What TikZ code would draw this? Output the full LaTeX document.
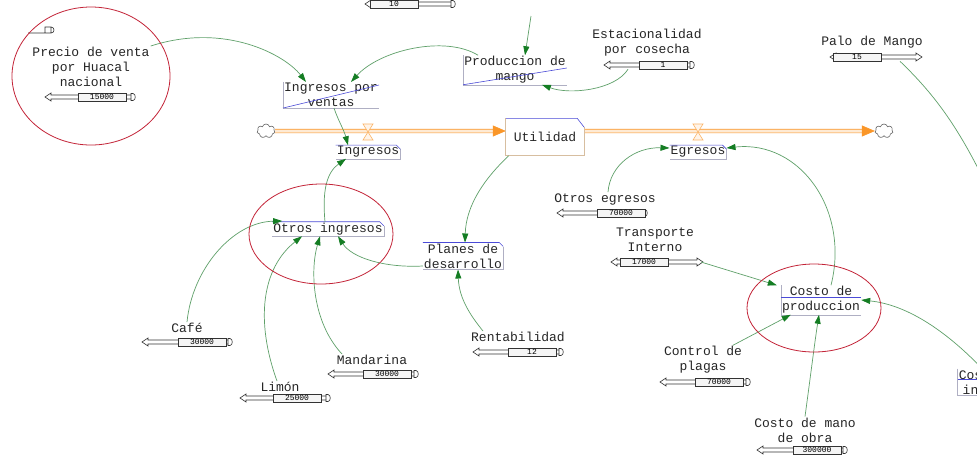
\documentclass[tikz,border=0pt]{standalone}
\usepackage{fontspec}
\setmainfont{Liberation Mono}
\usetikzlibrary{arrows.meta,shapes.symbols}
\definecolor{vline}{RGB}{95,160,105}
\definecolor{vtip}{RGB}{20,125,35}
\definecolor{vblue}{RGB}{75,75,215}
\definecolor{vgrey}{RGB}{175,175,195}
\definecolor{vorange}{RGB}{250,150,40}
\definecolor{vred}{RGB}{195,35,55}
\definecolor{vstock}{RGB}{215,190,160}
\tikzset{
  slideline/.style={draw=black!80, line width=0.6pt},
  slidebox/.style={draw=black!80, fill=black!4, line width=0.6pt, minimum width=48pt, minimum height=8pt, inner sep=0pt, font=\fontsize{8}{8}\selectfont}
}
% slider: name, x, y, box offset, value, right end (0 cap, 1 tip)
\newcommand{\vslider}[6]{%
  \begin{scope}[shift={(#2,#3)}]
    \draw[slideline] (86,-2) -- (6,-2) -- (6,-4) -- (0,0) -- (6,4) -- (6,2) -- (86,2);
    \ifnum#6=1
      \draw[slideline] (86,-2) -- (86,-4) -- (92,0) -- (86,4) -- (86,2);
    \else
      \draw[slideline] (86,-3.5) -- (88,-3.5) .. controls (91,-3.5) and (91,3.5) .. (88,3.5) -- (86,3.5) -- cycle;
    \fi
    \node[slidebox] (#1) at (#4+24,0) {#5};
    \coordinate (#1e) at (90,0);
  \end{scope}}
\begin{document}
\begin{tikzpicture}[
    x=1pt, y=-1pt,
    var/.style={font=\fontsize{13}{15}\selectfont, align=center, inner sep=1pt, text=black!85},
    stock/.style={var, minimum width=78pt, minimum height=37pt},
    link/.style={draw=vline, line width=0.7pt, -{Triangle[length=9pt,width=6pt,color=vtip]}},
    pipe/.style={draw=vorange, line width=0.6pt, double=vorange!20, double distance=3pt, -{Triangle[length=13pt,width=11pt,color=vorange]}},
    hilite/.style={draw=vred, line width=0.8pt},
    boxtop/.style={draw=vblue, line width=0.6pt},
    boxedge/.style={draw=vgrey, line width=0.5pt},
    stockedge/.style={draw=vstock, line width=0.8pt},
    valve/.style={draw=vorange!70, fill=vorange!10, line width=0.6pt},
    cloudy/.style={cloud, cloud puffs=7, aspect=1.3, minimum width=18pt, minimum height=14pt, draw=black!60, line width=0.6pt, inner sep=0pt}
  ]
  \fill[white] (0,0) rectangle (977,459);
  \useasboundingbox (0,0) rectangle (977,459);

  % stock, flows and clouds
  \node[stock] (utilidad) at (545,137) {Utilidad};
  \node[cloudy] (cloudL) at (266,131) {};
  \node[cloudy] (cloudR) at (884,131) {};
  \draw[pipe] (cloudL) -- (cloudL -| utilidad.west);
  \draw[pipe] (utilidad.east |- cloudR) -- (cloudR);
  \foreach \x in {368,698}
    \draw[valve] (\x-5,124) -- (\x+5,124) -- (\x-5,140) -- (\x+5,140) -- cycle;
  \draw[stockedge] ([yshift=-9pt]utilidad.north east) -- (utilidad.south east) -- (utilidad.south west) -- (utilidad.north west);
  \draw[boxtop] (utilidad.north west) -- ([xshift=-7pt]utilidad.north east) -- ([yshift=-9pt]utilidad.north east);

  % variables
  \node[var] (precio) at (91,67) {Precio de venta\\por Huacal\\nacional};
  \node[var] (ingventas) at (331,95) {Ingresos por\\ventas};
  \node[var] (prodmango) at (515,70) {Produccion de\\mango};
  \node[var] (estac) at (647,43) {Estacionalidad\\por cosecha};
  \node[var] (palo) at (872,42) {Palo de Mango};
  \node[var] (ingresos) at (368,152) {Ingresos};
  \node[var] (egresos) at (698,152) {Egresos};
  \node[var] (otrosing) at (328,229) {Otros ingresos};
  \node[var] (planes) at (463,256) {Planes de\\desarrollo};
  \node[var] (otrosegr) at (605,199) {Otros egresos};
  \node[var] (transp) at (655,240) {Transporte\\Interno};
  \node[var] (costo) at (821,300) {Costo de\\produccion};
  \node[var] (rentab) at (518,337) {Rentabilidad};
  \node[var] (cafe) at (187,328) {Café};
  \node[var] (mandarina) at (372,360) {Mandarina};
  \node[var] (limon) at (280,387) {Limón};
  \node[var] (control) at (703,360) {Control de\\plagas};
  \node[var] (mano) at (805,430) {Costo de mano\\de obra};
  \node[var] (cinsumos) at (990,382) {Costo de\\insumos};

  % variable boxes
  \foreach \n in {ingresos,egresos,otrosing,planes}{
    \draw[boxedge] ([yshift=-4pt]\n.north east) -- (\n.south east) -- (\n.south west);
    \draw[boxtop] (\n.north west) -- ([xshift=-4pt]\n.north east) -- ([yshift=-4pt]\n.north east);
  }
  \foreach \n/\h in {ingventas/10,prodmango/2}{
    \draw[boxedge] (\n.north west) -- (\n.south west) -- (\n.south east);
    \draw[boxtop] (\n.south west) -- ([yshift=\h pt]\n.east);
  }
  \foreach \n in {costo,cinsumos}{
    \draw[boxedge] (\n.north west) -- (\n.south west) -- (\n.south east);
    \draw[boxtop] ([yshift=3pt]\n.west) -- ([yshift=3pt]\n.east);
  }

  % sliders
  \vslider{precioS}{45}{97}{33}{15000}{0}
  \vslider{topS}{365}{4}{5}{10}{0}
  \vslider{estacS}{604}{65}{35}{1}{0}
  \vslider{paloS}{830}{57}{3}{15}{1}
  \vslider{otrosegrS}{557}{213}{40}{70000}{0}
  \vslider{transpS}{611}{262}{9}{17000}{1}
  \vslider{controlS}{660}{382}{35}{70000}{0}
  \vslider{manoS}{757}{450}{36}{300000}{0}
  \vslider{rentabS}{473}{352}{35}{12}{0}
  \vslider{cafeS}{142}{342}{36}{30000}{0}
  \vslider{limonS}{240}{398}{33}{25000}{0}
  \vslider{mandarinaS}{328}{374}{35}{30000}{0}
  \draw[slideline] (28,33) -- (45,33) (45,27) rectangle (51,33) (51,27) .. controls (55,27) and (55,33) .. (51,33);

  % links
  \coordinate (topin) at (531,16);
  \coordinate (paloout) at (1000,215);
  \draw[link] (precio.north east) .. controls (225,22) and (285,55) .. ([xshift=-25pt]ingventas.north);
  \draw[link] ([xshift=15pt]prodmango.north west) .. controls (445,35) and (380,50) .. ([xshift=20pt]ingventas.north);
  \draw[link] (topin) -- ([xshift=10pt]prodmango.north);
  \draw[link] ([xshift=-35pt]estacS.south) .. controls (615,90) and (570,95) .. ([xshift=-25pt]prodmango.south east);
  \draw[link] ([xshift=3pt]ingventas.south) .. controls (338,120) and (344,130) .. ([xshift=-20pt]ingresos.north);
  \draw[link] ([xshift=-3pt]otrosing.north) .. controls (322,190) and (327,172) .. ([xshift=-22pt]ingresos.south);
  \draw[link] ([xshift=3pt]utilidad.south west) .. controls (485,178) and (466,205) .. ([xshift=2pt]planes.north);
  \draw[link] ([yshift=-10pt]planes.west) .. controls (385,268) and (352,258) .. ([xshift=10pt]otrosing.south);
  \draw[link] ([xshift=-35pt]rentab.north) .. controls (470,315) and (459,298) .. ([xshift=-5pt]planes.south);
  \draw[link] (cafe.north) .. controls (192,270) and (232,222) .. ([xshift=10pt,yshift=8pt]otrosing.west);
  \draw[link] ([xshift=-3pt]limon.north) .. controls (255,320) and (262,268) .. ([xshift=-26pt]otrosing.south);
  \draw[link] ([xshift=-30pt]mandarina.north) .. controls (312,322) and (310,270) .. ([xshift=-8pt]otrosing.south);
  \draw[link] ([xshift=3pt]otrosegr.north) .. controls (610,165) and (635,147) .. ([yshift=4pt]egresos.west);
  \draw[link] ([xshift=10pt]costo.north) .. controls (850,210) and (800,140) .. ([yshift=4pt]egresos.east);
  \draw[link] (transpSe) -- ([xshift=-4pt]costo.north west);
  \draw[link] ([xshift=30pt]control.north) -- ([xshift=10pt]costo.south west);
  \draw[link] (mano.north) .. controls (810,380) and (815,340) .. ([xshift=-2pt]costo.south);
  \draw[link] ([xshift=-8pt]cinsumos.north) .. controls (950,335) and (910,305) .. (costo.east);
  \draw[link] ([xshift=43pt]paloS.south) .. controls (935,95) and (962,130) .. (paloout);

  % highlights
  \draw[hilite] (91,76) ellipse [x radius=79, y radius=69];
  \draw[hilite] (321,234) ellipse [x radius=72, y radius=50];
  \draw[hilite] (814,308) ellipse [x radius=67, y radius=44];
\end{tikzpicture}
\end{document}
